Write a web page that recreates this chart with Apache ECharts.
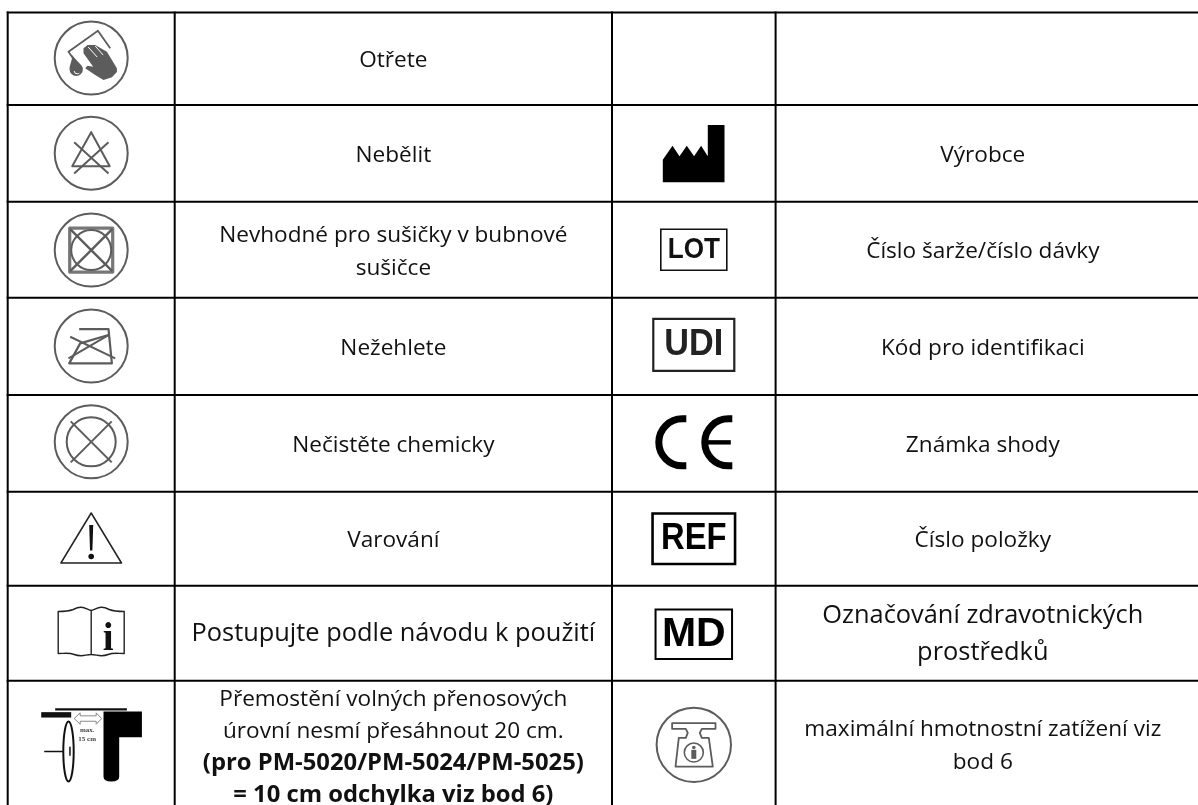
<!DOCTYPE html>
<html>
<head>
<meta charset="utf-8">
<style>
html, body { margin:0; padding:0; background:#fff; }
#chart { width:1198px; height:805px; }
</style>
</head>
<body>
<div id="chart"></div>
<script src="https://cdn.jsdelivr.net/npm/echarts@6/dist/echarts.min.js"></script>
<script type="text/javascript">
// table content
var iconsLeft = ['wipe', 'noBleach', 'noTumble', 'noIron', 'noDryClean', 'warning', 'manual', 'gap'];
var iconsRight = ['', 'factory', 'lot', 'udi', 'ce', 'ref', 'md', 'scale'];
var labelsLeft = [
    'Otřete',
    'Nebělit',
    'Nevhodné pro sušičky v bubnové\nsušičce',
    'Nežehlete',
    'Nečistěte chemicky',
    'Varování',
    'Postupujte podle návodu k použití',
    'Přemostění volných přenosových\núrovní nesmí přesáhnout 20 cm.\n{b|(pro PM-5020/PM-5024/PM-5025)}\n{b|= 10 cm odchylka viz bod 6)}'
];
var labelsRight = [
    '',
    'Výrobce',
    'Číslo šarže/číslo dávky',
    'Kód pro identifikaci',
    'Známka shody',
    'Číslo položky',
    'Označování zdravotnických\nprostředků',
    'maximální hmotnostní zatížení viz\nbod 6'
];

// table layout
var colEdges = [7.7, 174.7, 612, 775.6, 1190];
var rowEdges = [12.5, 105, 201.7, 297.7, 395, 491.7, 585.7, 680.7, 805];
var largeRows = [6];

var FONT = '"Open Sans", "Noto Sans", sans-serif';
var GRAY = '#5c5c5c';

function line(d, w, c) {
    return { type:'path', shape:{ pathData:d }, style:{ fill:null, stroke:c || GRAY, lineWidth:w || 2, lineJoin:'round' } };
}
function fill(d, c) {
    return { type:'path', shape:{ pathData:d }, style:{ fill:c || GRAY } };
}
function ring(r, w, c, y) {
    return { type:'circle', shape:{ cx:0, cy:y || 0, r:r }, style:{ fill:null, stroke:c || GRAY, lineWidth:w || 2 } };
}
function boxText(t, w, h, lw, color, size, sx, dy) {
    return [
        { type:'rect', shape:{ x:-w/2, y:-h/2, width:w, height:h }, style:{ fill:'#fff', stroke:color, lineWidth:lw } },
        { type:'text', x:0, y:dy || 0, scaleX:sx || 1, style:{ text:t, fill:color, fontFamily:'"Liberation Sans"', fontWeight:'bold', fontSize:size, align:'center', verticalAlign:'middle' } }
    ];
}

// symbols, drawn around the centre of their cell
var symbols = {
    wipe: { dy:-0.7, parts:[
        ring(36.5, 2),
        line('M-17 2 L-22.7 -6.3 L6.7 -27.3 L19 -9.7', 1.8),
        fill('M-7.7 -9.7 L-3.7 -13 L4 -13 L15.7 -6.3 L25.7 10.3 L25.7 14 L20.7 19.3 L12.3 22 L4 17 L-6 10.3 L-3.7 7.7 L2 8.7 L-7.7 -4.7 Z'),
        line('M-3 -11 L6 -1 M4 -12 L12 -3', 1, '#fff'),
        fill('M-19 -3 C-19 3 -21.7 7 -21.7 11 A6.7 7 0 0 0 -8.3 11 C-8.3 7 -14 4 -19 -3 Z'),
        line('M-17 13 A3 3 0 0 0 -12 15', 1, '#fff')
    ]},
    noBleach: { dy:-0.2, parts:[
        ring(36.5, 2),
        line('M0 -21 L-19 13 L18.5 13 Z', 2),
        line('M-17 -11 L17.3 20.3 M17.3 -11 L-17 20.3', 2)
    ]},
    noTumble: { dy:0.4, parts:[
        ring(36.5, 2),
        line('M-21.5 -22 H21.5 V22 H-21.5 Z', 3.2, '#777'),
        ring(20, 2),
        line('M-21 -21 L21 21 M21 -21 L-21 21', 2.4)
    ]},
    noIron: { dy:-0.3, parts:[
        ring(36.5, 2),
        line('M-12 -17 H17.3 L20.7 17.3 H-22 L-11 -2.7 L17.3 -11', 2.2),
        line('M-21 -9.3 L24 12.3 M17.3 -11 L-22.7 12.3', 2)
    ]},
    noDryClean: { dy:-1.5, parts:[
        ring(36.5, 2),
        ring(24.5, 2),
        line('M-20.5 -20.5 L20.5 20.5 M20.5 -20.5 L-20.5 20.5', 2)
    ]},
    warning: { dy:-0.7, parts:[
        line('M0 -25 L-30.3 25 H30.3 Z', 1.5, '#222'),
        fill('M-2 -13 H2 L1.2 12.5 H-1.2 Z', '#111'),
        { type:'circle', shape:{ cx:0, cy:18.5, r:2.8 }, style:{ fill:'#111' } }
    ]},
    manual: { dy:-0.7, parts:[
        line('M0 -22 C-8 -25 -10 -27 -18 -23 C-23 -21 -28 -21 -33 -21 V21 C-26 21 -22 20 -17 22 C-9 25 -6 22 0 22 C6 22 9 25 17 22 C22 20 26 21 33 21 V-21 C28 -21 23 -21 18 -23 C10 -27 8 -25 0 -22 V22', 1.4, '#222'),
        { type:'text', x:17, y:7, style:{ text:'i', fill:'#111', fontFamily:'"Liberation Serif"', fontWeight:'bold', fontSize:39, align:'center', verticalAlign:'middle' } }
    ]},
    gap: { dy:0, parts:[
        fill('M-36 -34.7 H35.7 V-32.3 H-36 Z', '#111'),
        fill('M-50 -30.7 H-20 V-25.3 H-50 Z', '#111'),
        fill('M12.3 -31.3 H50.7 V-5.7 H28 V34 Q28 38.7 20 38.7 Q12.3 38.7 12.3 34 Z', '#000'),
        { type:'ellipse', shape:{ cx:-22.7, cy:8.7, rx:5.2, ry:30 }, style:{ fill:'#fff', stroke:'#111', lineWidth:2 } },
        fill('M-47 8 H-28 V9.5 H-47 Z M-22 4 H-20.5 V13 H-22 Z', '#111'),
        line('M-17 -24.3 L-11 -30 V-27 H5 V-30 L10.5 -24.3 L5 -18.6 V-21.6 H-11 V-18.6 Z', 1, '#888'),
        { type:'text', x:-4, y:-8, style:{ text:'max.\n15 cm', fill:'#444', fontFamily:'"Liberation Serif"', fontWeight:'bold', fontSize:7, lineHeight:8.5, align:'center', verticalAlign:'middle' } }
    ]},
    factory: { dy:0.3, parts:[
        fill('M-31 28.7 V6 L-21.3 -8 L-14.3 2.7 L-7 -8 L0.3 2.7 L7.3 -8 L14 2.7 V-28.7 H30.7 V28.7 Z', '#000')
    ]},
    lot: { dy:0, parts: boxText('LOT', 66, 41, 1.6, '#111', 30, 0.87, 0.5) },
    udi: { dy:-1.5, parts: boxText('UDI', 81, 52, 2.2, '#222', 36, 0.95, 0) },
    ce: { dy:-1, parts:[
        line('M-7.5 -23.5 H-11.5 A23.5 23.5 0 0 0 -11.5 23.5 H-7.5', 7, '#000'),
        line('M38.5 -23.5 H34.5 A23.5 23.5 0 0 0 34.5 23.5 H38.5', 7, '#000'),
        fill('M11 -2.2 H37 V2.2 H11 Z', '#000')
    ]},
    ref: { dy:0, parts: boxText('REF', 82.5, 50.5, 2.6, '#000', 36, 0.91, 0.5) },
    md: { dy:1, parts: boxText('MD', 76.5, 49.5, 2, '#000', 41, 1, 0.5) },
    scale: { dy:2, parts:[
        ring(37.2, 2),
        line('M-21.7 -21.7 H21.7 V-16 H8 L6 -12 L8 -7 L15 -7 L19 21.7 H-18.3 L-15 -7 L-8 -7 L-6 -12 L-8 -16 H-21.7 Z', 1.8),
        ring(9.5, 1.6, GRAY, 7.7),
        fill('M-2.5 5 H2.5 V14 H-2.5 Z'),
        { type:'circle', shape:{ cx:0, cy:2.6, r:1.8 }, style:{ fill:GRAY } }
    ]}
};

// rows of the table turned into chart data
var gridLines = [];
rowEdges.slice(0, -1).forEach(function (y) { gridLines.push([colEdges[0] - 1, y, 1198, y]); });
colEdges.slice(0, -1).forEach(function (x) { gridLines.push([x, rowEdges[0] - 1, x, 805]); });

var iconData = [], labelData = [];
function addColumn(icons, labels, iconCol, labelCol) {
    labels.forEach(function (text, i) {
        var cy = (rowEdges[i] + rowEdges[i + 1]) / 2;
        iconData.push([(colEdges[iconCol] + colEdges[iconCol + 1]) / 2, cy, icons[i]]);
        labelData.push([(colEdges[labelCol] + colEdges[labelCol + 1]) / 2, cy, text, largeRows.indexOf(i) >= 0 ? 1 : 0]);
    });
}
addColumn(iconsLeft, labelsLeft, 0, 1);
addColumn(iconsRight, labelsRight, 2, 3);

var myChart = echarts.init(document.getElementById('chart'), null, { renderer:'canvas' });

var option = {
    animation: false,
    backgroundColor: '#fff',
    grid: { left:0, right:0, top:0, bottom:0 },
    xAxis: { type:'value', min:0, max:1198, show:false },
    yAxis: { type:'value', min:0, max:805, inverse:true, show:false },
    series: [
        {
            type: 'custom',
            silent: true,
            clip: false,
            data: gridLines,
            renderItem: function (params, api) {
                var a = api.coord([api.value(0), api.value(1)]);
                var b = api.coord([api.value(2), api.value(3)]);
                return { type:'line', shape:{ x1:a[0], y1:a[1], x2:b[0], y2:b[1] }, style:{ stroke:'#000', lineWidth:2 } };
            }
        },
        {
            type: 'custom',
            silent: true,
            clip: false,
            data: iconData,
            renderItem: function (params, api) {
                var s = symbols[iconData[params.dataIndex][2]];
                if (!s) return null;
                var p = api.coord([api.value(0), api.value(1)]);
                return { type:'group', x:p[0], y:p[1] + s.dy, children:s.parts };
            }
        },
        {
            type: 'custom',
            silent: true,
            clip: false,
            data: labelData,
            renderItem: function (params, api) {
                var d = labelData[params.dataIndex];
                if (!d[2]) return null;
                var p = api.coord([d[0], d[1]]);
                var hasBold = d[2].indexOf('{b|') >= 0;
                var size = d[3] ? 25.4 : 22.6;
                var shift = d[3] ? 0.8 : (hasBold ? 4.5 : (p[1] > 700 ? 3 : 2));
                return {
                    type: 'text',
                    x: p[0],
                    y: p[1] + shift,
                    style: {
                        text: d[2],
                        fill: '#111',
                        fontFamily: FONT,
                        fontSize: size,
                        lineHeight: d[3] ? 37 : (hasBold ? 32 : 33),
                        align: 'center',
                        verticalAlign: 'middle',
                        rich: { b: { fontFamily:FONT, fontWeight:'bold', fontSize:23.8, lineHeight:32, fill:'#111' } }
                    }
                };
            }
        }
    ]
};
myChart.setOption(option);
</script>
</body>
</html>
